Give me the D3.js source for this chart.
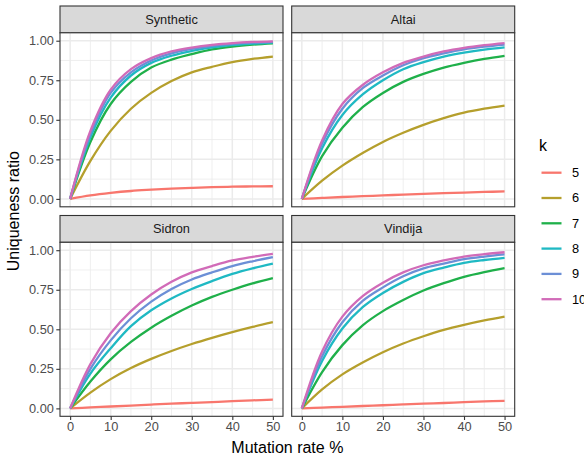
<!DOCTYPE html>
<html>
<head>
<meta charset="utf-8">
<script src="https://cdn.jsdelivr.net/npm/d3@7"></script>
<style>
  body { margin: 0; background: #fff; }
  svg { display: block; font-family: "Liberation Sans", Arial, sans-serif; }
</style>
</head>
<body>
<div id="chart"></div>
<script>
const rates = [0, 5, 10, 15, 20, 25, 30, 35, 40, 45, 50];
const kLevels = ['5', '6', '7', '8', '9', '10'];
const panelNames = ['Synthetic', 'Altai', 'Sidron', 'Vindija'];

// one row per k (5..10)
const syntheticValues = [
  [0, 0.022, 0.038, 0.050, 0.058, 0.065, 0.070, 0.074, 0.077, 0.079, 0.080],
  [0, 0.24, 0.43, 0.57, 0.67, 0.745, 0.80, 0.835, 0.865, 0.885, 0.90],
  [0, 0.36, 0.60, 0.74, 0.83, 0.88, 0.915, 0.945, 0.963, 0.975, 0.983],
  [0, 0.39, 0.64, 0.78, 0.86, 0.905, 0.935, 0.958, 0.972, 0.981, 0.988],
  [0, 0.41, 0.67, 0.80, 0.875, 0.92, 0.948, 0.968, 0.980, 0.988, 0.993],
  [0, 0.43, 0.69, 0.82, 0.89, 0.932, 0.957, 0.974, 0.985, 0.992, 0.996]
];
const altaiValues = [
  [0, 0.006, 0.012, 0.017, 0.022, 0.027, 0.032, 0.036, 0.040, 0.044, 0.047],
  [0, 0.115, 0.21, 0.29, 0.36, 0.418, 0.468, 0.51, 0.545, 0.57, 0.59],
  [0, 0.27, 0.45, 0.58, 0.67, 0.74, 0.79, 0.83, 0.86, 0.885, 0.904],
  [0, 0.32, 0.53, 0.66, 0.75, 0.82, 0.865, 0.90, 0.925, 0.944, 0.958],
  [0, 0.35, 0.57, 0.70, 0.78, 0.845, 0.89, 0.92, 0.945, 0.962, 0.975],
  [0, 0.37, 0.60, 0.72, 0.80, 0.86, 0.90, 0.932, 0.955, 0.972, 0.985]
];
const sidronValues = [
  [0, 0.006, 0.012, 0.018, 0.024, 0.030, 0.035, 0.040, 0.046, 0.051, 0.055],
  [0, 0.10, 0.185, 0.255, 0.313, 0.363, 0.407, 0.446, 0.482, 0.515, 0.545],
  [0, 0.17, 0.31, 0.42, 0.51, 0.585, 0.65, 0.705, 0.75, 0.79, 0.823],
  [0, 0.22, 0.38, 0.52, 0.62, 0.695, 0.755, 0.805, 0.85, 0.885, 0.915],
  [0, 0.25, 0.43, 0.57, 0.675, 0.755, 0.815, 0.86, 0.90, 0.93, 0.956],
  [0, 0.28, 0.475, 0.615, 0.72, 0.80, 0.86, 0.90, 0.935, 0.958, 0.977]
];
const vindijaValues = [
  [0, 0.005, 0.010, 0.015, 0.020, 0.025, 0.030, 0.034, 0.039, 0.044, 0.048],
  [0, 0.12, 0.215, 0.29, 0.355, 0.41, 0.456, 0.496, 0.528, 0.556, 0.58],
  [0, 0.23, 0.40, 0.525, 0.615, 0.685, 0.745, 0.792, 0.832, 0.862, 0.887],
  [0, 0.30, 0.505, 0.64, 0.73, 0.80, 0.855, 0.89, 0.92, 0.938, 0.952],
  [0, 0.33, 0.545, 0.68, 0.765, 0.835, 0.885, 0.915, 0.943, 0.96, 0.973],
  [0, 0.36, 0.58, 0.71, 0.795, 0.86, 0.905, 0.935, 0.96, 0.975, 0.987]
];

const xTicks = [0, 10, 20, 30, 40, 50];
const yTicks = [0, 0.25, 0.5, 0.75, 1];
const xMinor = [5, 15, 25, 35, 45];
const yMinor = [0.125, 0.375, 0.625, 0.875];

const panelValues = [syntheticValues, altaiValues, sidronValues, vindijaValues];
const colours = ['#F8766D', '#B59F2C', '#1FB04A', '#1FB9C3', '#6C8FD6', '#D16BB8'];

const width = 584, height = 458;
const marginLeft = 60, marginTop = 6;
const panelW = 223, plotH = 174, stripH = 26.8, gap = 8.7;

const x = d3.scaleLinear().domain([-2.5, 52.5]).range([0, panelW]);
const y = d3.scaleLinear().domain([-0.05, 1.05]).range([plotH, 0]);
const colour = d3.scaleOrdinal().domain(kLevels).range(colours);

const line = d3.line()
  .x(d => x(d[0]))
  .y(d => y(d[1]))
  .curve(d3.curveCatmullRom.alpha(0.5));

const svg = d3.select('#chart').append('svg')
  .attr('width', width)
  .attr('height', height);

panelNames.forEach((name, i) => {
  const col = i % 2, row = Math.floor(i / 2);
  const px = marginLeft + col * (panelW + gap);
  const py = marginTop + row * (stripH + plotH + gap);

  const g = svg.append('g').attr('transform', 'translate(' + px + ',' + py + ')');

  // strip
  g.append('rect')
    .attr('width', panelW).attr('height', stripH)
    .attr('fill', '#D9D9D9').attr('stroke', '#333333').attr('stroke-width', 1.1);
  g.append('text')
    .attr('x', panelW / 2).attr('y', stripH / 2)
    .attr('dy', '0.35em')
    .attr('text-anchor', 'middle')
    .attr('fill', '#1A1A1A')
    .style('font-size', '12.8px')
    .text(name);

  const plot = g.append('g').attr('transform', 'translate(0,' + stripH + ')');
  plot.append('rect').attr('width', panelW).attr('height', plotH).attr('fill', '#fff');

  // grid
  plot.selectAll('.xminor').data(xMinor).enter().append('line')
    .attr('x1', d => x(d)).attr('x2', d => x(d)).attr('y1', 0).attr('y2', plotH)
    .attr('stroke', '#EBEBEB').attr('stroke-width', 0.8);
  plot.selectAll('.yminor').data(yMinor).enter().append('line')
    .attr('y1', d => y(d)).attr('y2', d => y(d)).attr('x1', 0).attr('x2', panelW)
    .attr('stroke', '#EBEBEB').attr('stroke-width', 0.8);
  plot.selectAll('.xmajor').data(xTicks).enter().append('line')
    .attr('x1', d => x(d)).attr('x2', d => x(d)).attr('y1', 0).attr('y2', plotH)
    .attr('stroke', '#EBEBEB').attr('stroke-width', 1.5);
  plot.selectAll('.ymajor').data(yTicks).enter().append('line')
    .attr('y1', d => y(d)).attr('y2', d => y(d)).attr('x1', 0).attr('x2', panelW)
    .attr('stroke', '#EBEBEB').attr('stroke-width', 1.5);

  // curves
  panelValues[i].forEach((vals, j) => {
    plot.append('path')
      .datum(rates.map((r, n) => [r, vals[n]]))
      .attr('fill', 'none')
      .attr('stroke', colour(kLevels[j]))
      .attr('stroke-width', 2.3)
      .attr('d', line);
  });

  plot.append('rect')
    .attr('width', panelW).attr('height', plotH)
    .attr('fill', 'none').attr('stroke', '#333333').attr('stroke-width', 1.1);

  // axes
  if (col === 0) {
    const ya = plot.append('g')
      .call(d3.axisLeft(y).tickValues(yTicks).tickFormat(d3.format('.2f')).tickSize(3.7).tickPadding(2.4));
    ya.select('.domain').remove();
    ya.selectAll('line').attr('stroke', '#333333').attr('stroke-width', 1.1);
    ya.selectAll('text').attr('fill', '#4D4D4D').style('font-size', '12.8px')
      .style('font-family', '"Liberation Sans", Arial, sans-serif');
  }
  if (row === 1) {
    const xa = plot.append('g')
      .attr('transform', 'translate(0,' + plotH + ')')
      .call(d3.axisBottom(x).tickValues(xTicks).tickSize(3.7).tickPadding(2.4));
    xa.select('.domain').remove();
    xa.selectAll('line').attr('stroke', '#333333').attr('stroke-width', 1.1);
    xa.selectAll('text').attr('fill', '#4D4D4D').style('font-size', '12.8px')
      .style('font-family', '"Liberation Sans", Arial, sans-serif');
  }
});

// axis titles
svg.append('text')
  .attr('x', marginLeft + panelW + gap / 2).attr('y', 453)
  .attr('text-anchor', 'middle')
  .style('font-size', '16px')
  .text('Mutation rate %');

svg.append('text')
  .attr('transform', 'translate(19,' + (marginTop + (2 * (stripH + plotH) + gap) / 2) + ') rotate(-90)')
  .attr('text-anchor', 'middle')
  .style('font-size', '16px')
  .text('Uniqueness ratio');

// legend
const legend = svg.append('g').attr('transform', 'translate(539,0)');
legend.append('text')
  .attr('x', 0).attr('y', 150.5)
  .style('font-size', '16px')
  .text('k');
kLevels.forEach((k, j) => {
  const ky = 172.7 + j * 25.3;
  legend.append('line')
    .attr('x1', 2.5).attr('x2', 22.5).attr('y1', ky).attr('y2', ky)
    .attr('stroke', colour(k)).attr('stroke-width', 2.3);
  legend.append('text')
    .attr('x', 33).attr('y', ky).attr('dy', '0.35em')
    .style('font-size', '12.8px')
    .text(k);
});
</script>
</body>
</html>
